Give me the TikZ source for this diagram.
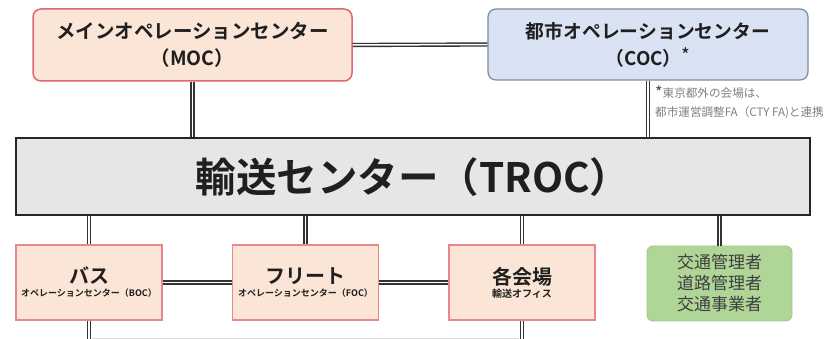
\documentclass[tikz,border=0pt]{standalone}
\usepackage{fontspec}
\setmainfont{Noto Sans CJK JP}[BoldFont={Noto Sans CJK JP Bold}]
\definecolor{peach}{HTML}{FBE5D6}
\definecolor{redline}{HTML}{E06670}
\definecolor{redlight}{HTML}{E8878C}
\definecolor{bluefill}{HTML}{DAE3F3}
\definecolor{blueline}{HTML}{7F8A9C}
\definecolor{trocfill}{HTML}{E7E6E6}
\definecolor{greenfill}{HTML}{AFD597}
\definecolor{greenline}{HTML}{9CC884}
\definecolor{txt}{HTML}{1F1F1F}
\definecolor{notegray}{HTML}{808080}
\tikzset{
  dbl/.style={draw=black!80, line width=1.4pt, double=white, double distance=1.5pt},
  topbox/.style={rounded corners=8pt, line width=1.5pt, align=center, text=txt, inner sep=0pt},
  lowbox/.style={draw=redlight, fill=peach, line width=1.2pt, minimum width=146pt, minimum height=75pt, align=center, text=txt, inner sep=0pt},
}
\begin{document}
\begin{tikzpicture}[x=1pt,y=-1pt]
\useasboundingbox (0,0) rectangle (836,339);
% top boxes
\node[topbox, draw=redline, fill=peach, minimum width=319pt, minimum height=72pt,
      font=\bfseries\fontsize{19.5}{27}\selectfont] (moc) at (192.5,45) {メインオペレーションセンター\\（MOC）};
\node[topbox, draw=blueline, fill=bluefill, minimum width=320pt, minimum height=71pt, line width=1.2pt,
      font=\bfseries\fontsize{18.8}{27}\selectfont] (coc) at (648,44.5) {都市オペレーションセンター\\（COC）\raisebox{3pt}{\mdseries *}};
% note
\node[anchor=north west, inner sep=0pt, text=notegray, font=\fontsize{11.6}{19}\selectfont, align=left] (note) at (655,86)
  {\raisebox{-1pt}{\fontsize{16}{16}\selectfont\color{black!70}*}東京都外の会場は、\\都市運営調整FA（CTY FA)と連携};
% TROC
\node[draw=black!85, fill=trocfill, line width=2pt, minimum width=794pt, minimum height=77pt, inner sep=0pt,
      text=txt, font=\bfseries\fontsize{40.5}{44}\selectfont] (troc) at (413,177) {輸送センター（TROC）};
% lower boxes
\node[lowbox] (boc) at (89,282.5) {{\bfseries\fontsize{20}{22}\selectfont バス}\\[1pt]{\bfseries\fontsize{9}{10}\selectfont オペレーションセンター（BOC）}};
\node[lowbox] (foc) at (305.5,282.5) {{\bfseries\fontsize{20}{22}\selectfont フリート}\\[1pt]{\bfseries\fontsize{9}{10}\selectfont オペレーションセンター（FOC）}};
\node[lowbox] (venue) at (522,282.5) {{\bfseries\fontsize{20}{22}\selectfont 各会場}\\[1pt]{\bfseries\fontsize{10}{11}\selectfont 輸送オフィス}};
\node[draw=greenline, fill=greenfill, rounded corners=6pt, line width=0.8pt, minimum width=145pt, minimum height=75pt,
      inner sep=0pt, align=center, text=black!75, font=\fontsize{17}{21}\selectfont] (traffic) at (719.5,283.5)
  {交通管理者\\道路管理者\\交通事業者};
% connectors
\coordinate (bocend) at (89,339);
\coordinate (venueend) at (522,339);
\draw[dbl] (moc.east) -- (coc.west);
\draw[dbl] (moc.south) -- (moc.south |- troc.north);
\draw[dbl] (coc.south) -- (coc.south |- troc.north);
\draw[dbl] (boc.north |- troc.south) -- (boc.north);
\draw[dbl] (foc.north |- troc.south) -- (foc.north);
\draw[dbl] (venue.north |- troc.south) -- (venue.north);
\draw[dbl] (traffic.north |- troc.south) -- (traffic.north);
\draw[dbl] (boc.east) -- (foc.west);
\draw[dbl] (foc.east) -- (venue.west);
\draw[dbl] (boc.south) -- (bocend);
\draw[dbl] (venue.south) -- (venueend);
\draw[black!15, line width=0.8pt] ([xshift=3pt,yshift=1pt]bocend) -- ([xshift=-3pt,yshift=1pt]venueend);
\end{tikzpicture}
\end{document}
